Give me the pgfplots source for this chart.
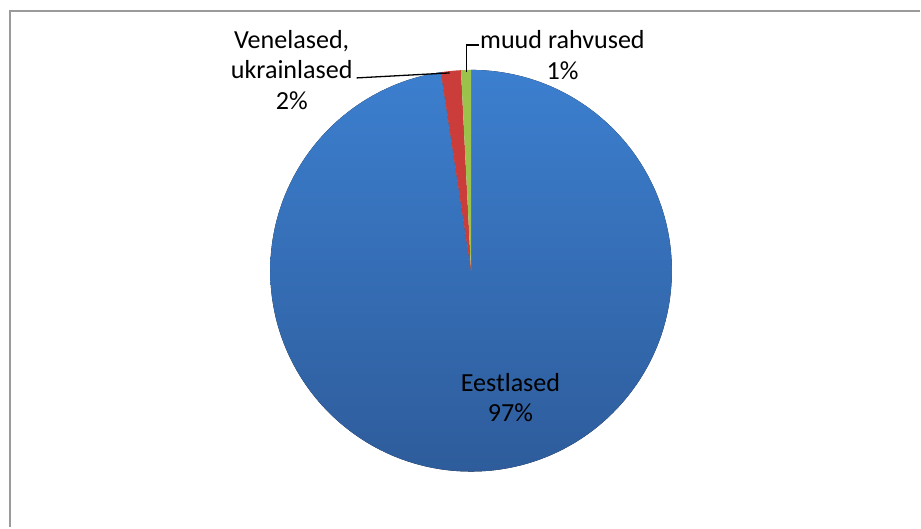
\documentclass[border=0pt]{standalone}
\usepackage{pgfplots}
\pgfplotsset{compat=1.18}
\usepackage{pgfplotstable}
\usepackage{fontspec}
\setmainfont{Carlito}
\definecolor{bluetop}{HTML}{3C7FCF}
\definecolor{bluebot}{HTML}{2E5C9B}
\definecolor{slred}{HTML}{CB3D3A}
\definecolor{slgreen}{HTML}{9BC24B}
\definecolor{bordergray}{HTML}{9A9A9A}
\pgfplotstableread{
label value
Eestlased 97.6
Venelased 1.6
muud 0.8
}\piedata
\begin{document}
\begin{tikzpicture}
\pgfplotstablegetelem{0}{value}\of\piedata \let\va\pgfplotsretval
\pgfplotstablegetelem{1}{value}\of\piedata \let\vb\pgfplotsretval
\pgfplotstablegetelem{2}{value}\of\piedata \let\vc\pgfplotsretval
\pgfmathsetmacro\total{\va+\vb+\vc}
\pgfmathsetmacro\fa{\va/\total}
\pgfmathsetmacro\fb{\vb/\total}
\pgfmathsetmacro\fc{\vc/\total}
\pgfmathsetmacro\aA{90}
\pgfmathsetmacro\aB{90-360*\fa}
\pgfmathsetmacro\aC{\aB-360*\fb}
\pgfmathsetmacro\aD{\aC-360*\fc}
\begin{axis}[
  width=921bp, height=528bp, scale only axis,
  xmin=0, xmax=921, ymin=0, ymax=528,
  hide axis, clip=false,
]
\path (axis cs:0,0) rectangle (axis cs:921,528);
% border (top and left)
\draw[bordergray, line width=1.8bp] (axis cs:10,0) -- (axis cs:10,517) -- (axis cs:921,517);
% slices
\fill[top color=bluetop, bottom color=bluebot] (axis cs:471.5,257) -- ++(\aA:201bp) arc[start angle=\aA, end angle=\aB, radius=201bp] -- cycle;
\fill[slred] (axis cs:471.5,257) -- ++(\aB:201bp) arc[start angle=\aB, end angle=\aC, radius=201bp] -- cycle;
\fill[slgreen] (axis cs:471.5,257) -- ++(\aC:201bp) arc[start angle=\aC, end angle=\aD, radius=201bp] -- cycle;
% leader lines
\draw[black, line width=1.3bp] (axis cs:357,450) -- (axis cs:450,455);
\draw[black, line width=1.3bp] (axis cs:479,483) -- (axis cs:466.7,483) -- (axis cs:466.7,456);
% labels
\node[align=center, font=\fontsize{26.2}{30.5}\selectfont, inner sep=0pt] at (axis cs:511,130) {Eestlased\\97\%};
\node[align=center, font=\fontsize{26.2}{30.5}\selectfont, inner sep=0pt] at (axis cs:292,458) {Venelased,\\ukrainlased\\2\%};
\node[align=center, font=\fontsize{26.2}{30.5}\selectfont, inner sep=0pt] at (axis cs:563,473) {muud rahvused\\1\%};
\end{axis}
\end{tikzpicture}
\end{document}
